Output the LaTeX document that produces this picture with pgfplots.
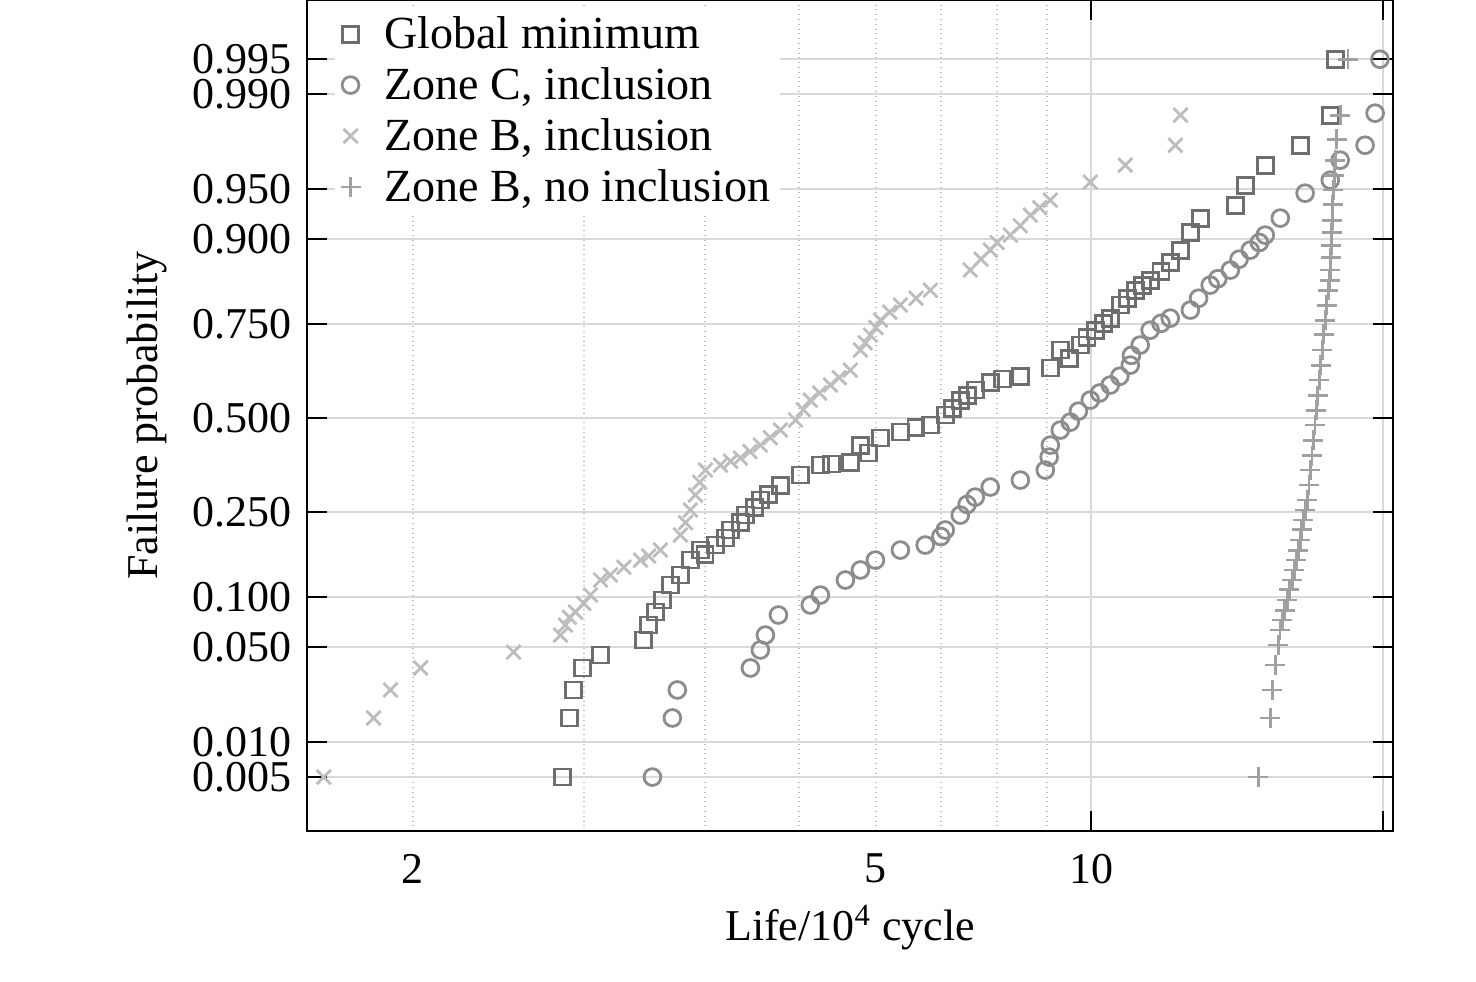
\documentclass[border=0pt]{standalone}
\usepackage{pgfplots}
\pgfplotsset{compat=1.18}
\usepackage{fontspec}
\setmainfont{Liberation Serif}
\definecolor{cgm}{HTML}{6E6E6E}
\definecolor{czc}{HTML}{8C8C8C}
\definecolor{czb}{HTML}{BDBDBD}
\definecolor{cnb}{HTML}{A0A0A0}
\begin{document}
\begin{tikzpicture}
\begin{axis}[
  name=ax, at={(0,0)}, anchor=south west,
  width=543pt, height=415.5pt, scale only axis,
  xmode=log, log basis x=10,
  xmin=1.556, xmax=20.46, ymin=-2.963, ymax=3.0,
  font=\fontsize{22}{26}\selectfont,
  /pgf/number format/assume math mode=true,
  xtick={10,20}, xticklabels={10,{}},
  minor xtick={2,3,4,5,6,7,8,9},
  extra x ticks={2,6}, extra x tick labels={2,5},
  extra x tick style={grid=none, major tick length=0pt},
  xticklabel style={yshift=-8pt},
  ytick={-2.576,-2.326,-1.645,-1.282,-0.674,0,0.674,1.282,1.645,2.326,2.576},
  yticklabels={0.005,0.010,0.050,0.100,0.250,0.500,0.750,0.900,0.950,0.990,0.995},
  yticklabel style={xshift=-4pt},
  xmajorgrids, xminorgrids, ymajorgrids,
  major grid style={draw=black!15, line width=1pt},
  minor grid style={draw=black!25, dotted, line width=0.8pt},
  major tick length=10pt, minor tick length=0pt,
  tick style={black, line width=1pt},
  tick align=inside,
  axis line style={line width=1pt},
  xlabel={Life/10\textsuperscript{4} cycle},
  ylabel={Failure probability},
  xlabel style={yshift=-4pt},
  ylabel style={yshift=6pt},
  legend cell align=left,
  legend style={at={(0.025,0.99)}, anchor=north west, draw=none, fill=white,
    font=\fontsize{23}{27}\selectfont, row sep=4pt,
    /tikz/every odd column/.append style={column sep=10pt}},
  mark options={line width=1.4pt, solid},
]
\addplot[only marks, mark=square, mark size=4pt, draw=cgm] coordinates {
(2.853,-2.576)(2.900,-2.152)(2.928,-1.951)(2.990,-1.793)(3.122,-1.700)(3.457,-1.593)(3.499,-1.485)(3.556,-1.392)(3.615,-1.306)(3.685,-1.198)(3.773,-1.126)(3.864,-1.019)(3.957,-0.947)(4.101,-0.911)(4.249,-0.803)(4.402,-0.696)(4.561,-0.588)(4.783,-0.481)(5.013,-0.409)(5.259,-0.337)(5.647,-0.316)(5.783,-0.194)(6.065,-0.143)(6.358,-0.100)(6.827,-0.050)(7.073,0.022)(7.330,0.129)(7.595,0.201)(7.870,0.258)(8.452,0.301)(9.075,0.359)(9.291,0.488)(9.742,0.524)(10.10,0.631)(10.46,0.717)(10.71,0.811)(11.10,0.918)(11.50,0.990)(12.06,1.119)(12.36,1.205)(12.65,1.334)(12.95,1.435)(14.07,1.528)(14.41,1.671)(15.11,1.815)(16.42,1.958)(17.63,2.174)(17.84,2.575)
(4.0,-0.98)(4.2,-0.86)(4.35,-0.75)(4.5,-0.64)(4.65,-0.55)(5.4,-0.33)(5.9,-0.25)(6.6,-0.07)(7.2,0.07)(7.45,0.16)(8.1,0.28)(9.5,0.43)(9.9,0.58)(10.3,0.68)(10.9,0.86)(11.3,0.95)(11.8,1.05)
};
\addlegendentry{Global minimum}
\addplot[only marks, mark=o, mark size=4.2pt, draw=czc] coordinates {
(3.531,-2.576)(3.702,-2.152)(3.746,-1.951)(4.455,-1.793)(4.561,-1.664)(4.616,-1.557)(4.761,-1.413)(5.135,-1.341)(5.259,-1.270)(5.581,-1.162)(5.783,-1.090)(5.993,-1.019)(6.358,-0.947)(6.745,-0.911)(7.073,-0.803)(7.330,-0.696)(7.595,-0.567)(7.870,-0.495)(8.452,-0.445)(8.967,-0.373)(9.075,-0.194)(9.291,-0.086)(9.514,-0.029)(9.976,0.129)(10.46,0.237)(10.97,0.380)(11.23,0.524)(11.50,0.631)(12.06,0.717)(12.65,0.775)(13.26,0.954)(13.91,1.062)(14.58,1.205)(15.11,1.313)(15.66,1.435)(16.61,1.614)(17.63,1.707)(18.05,1.851)(19.15,1.958)(19.61,2.188)(19.84,2.575)
(7.0,-0.85)(7.45,-0.62)(9.05,-0.28)(9.7,0.05)(10.2,0.18)(10.7,0.30)(11.0,0.45)(11.8,0.68)(12.9,0.86)(13.5,1.0)(14.2,1.14)(14.9,1.26)
};
\addlegendentry{Zone C, inclusion}
\addplot[only marks, mark=x, mark size=5pt, draw=czb] coordinates {
(1.619,-2.576)(1.822,-2.152)(1.897,-1.951)(2.037,-1.793)(2.540,-1.679)(2.839,-1.557)(2.872,-1.485)(2.942,-1.392)(3.048,-1.270)(3.122,-1.162)(3.196,-1.126)(3.432,-1.019)(3.598,-0.947)(3.773,-0.839)(3.864,-0.660)(3.911,-0.552)(4.004,-0.373)(4.149,-0.337)(4.350,-0.287)(4.561,-0.194)(4.783,-0.086)(4.958,-0.014)(5.135,0.129)(5.385,0.237)(5.647,0.344)(5.783,0.488)(5.922,0.595)(6.065,0.703)(6.358,0.811)(6.827,0.918)(7.506,1.062)(7.870,1.205)(8.254,1.313)(8.654,1.456)(9.075,1.564)(9.976,1.693)(10.84,1.815)(12.21,1.958)(12.36,2.174)
(2.9,-1.43)(3.0,-1.33)(3.3,-1.07)(3.5,-0.99)(3.82,-0.75)(3.95,-0.46)(4.25,-0.31)(4.45,-0.24)(4.67,-0.14)(5.05,0.06)(5.25,0.18)(5.5,0.29)(5.85,0.54)(6.0,0.65)(6.2,0.76)(6.6,0.86)(7.7,1.14)(8.0,1.26)(8.45,1.38)(8.85,1.51)
};
\addlegendentry{Zone B, inclusion}
\addplot[only marks, mark=+, mark size=5pt, draw=cnb] coordinates {
(14.86,-2.576)(15.29,-2.152)(15.37,-1.951)(15.48,-1.772)(15.58,-1.628)(15.73,-1.449)(15.92,-1.306)(16.11,-1.162)(16.26,-1.019)(16.42,-0.875)(16.54,-0.732)(16.70,-0.588)(16.82,-0.373)(16.94,-0.158)(17.05,0.057)(17.18,0.273)(17.30,0.488)(17.42,0.703)(17.55,0.918)(17.63,1.062)(17.67,1.241)(17.71,1.420)(17.75,1.636)(17.84,1.851)(18.05,2.174)(18.39,2.575)
(15.65,-1.52)(15.82,-1.38)(16.0,-1.23)(16.19,-1.09)(16.34,-0.95)(16.48,-0.80)(16.62,-0.66)(16.76,-0.48)(16.88,-0.27)(17.0,-0.05)(17.12,0.16)(17.24,0.38)(17.36,0.60)(17.49,0.81)(17.6,0.99)(17.65,1.15)(17.69,1.33)(17.73,1.53)(17.8,1.74)(17.9,2.0)
};
\addlegendentry{Zone B, no inclusion}
\end{axis}
\pgfresetboundingbox
\path[use as bounding box] (-153.5pt,-75pt) rectangle (584.5pt,415.5pt);
\end{tikzpicture}
\end{document}
